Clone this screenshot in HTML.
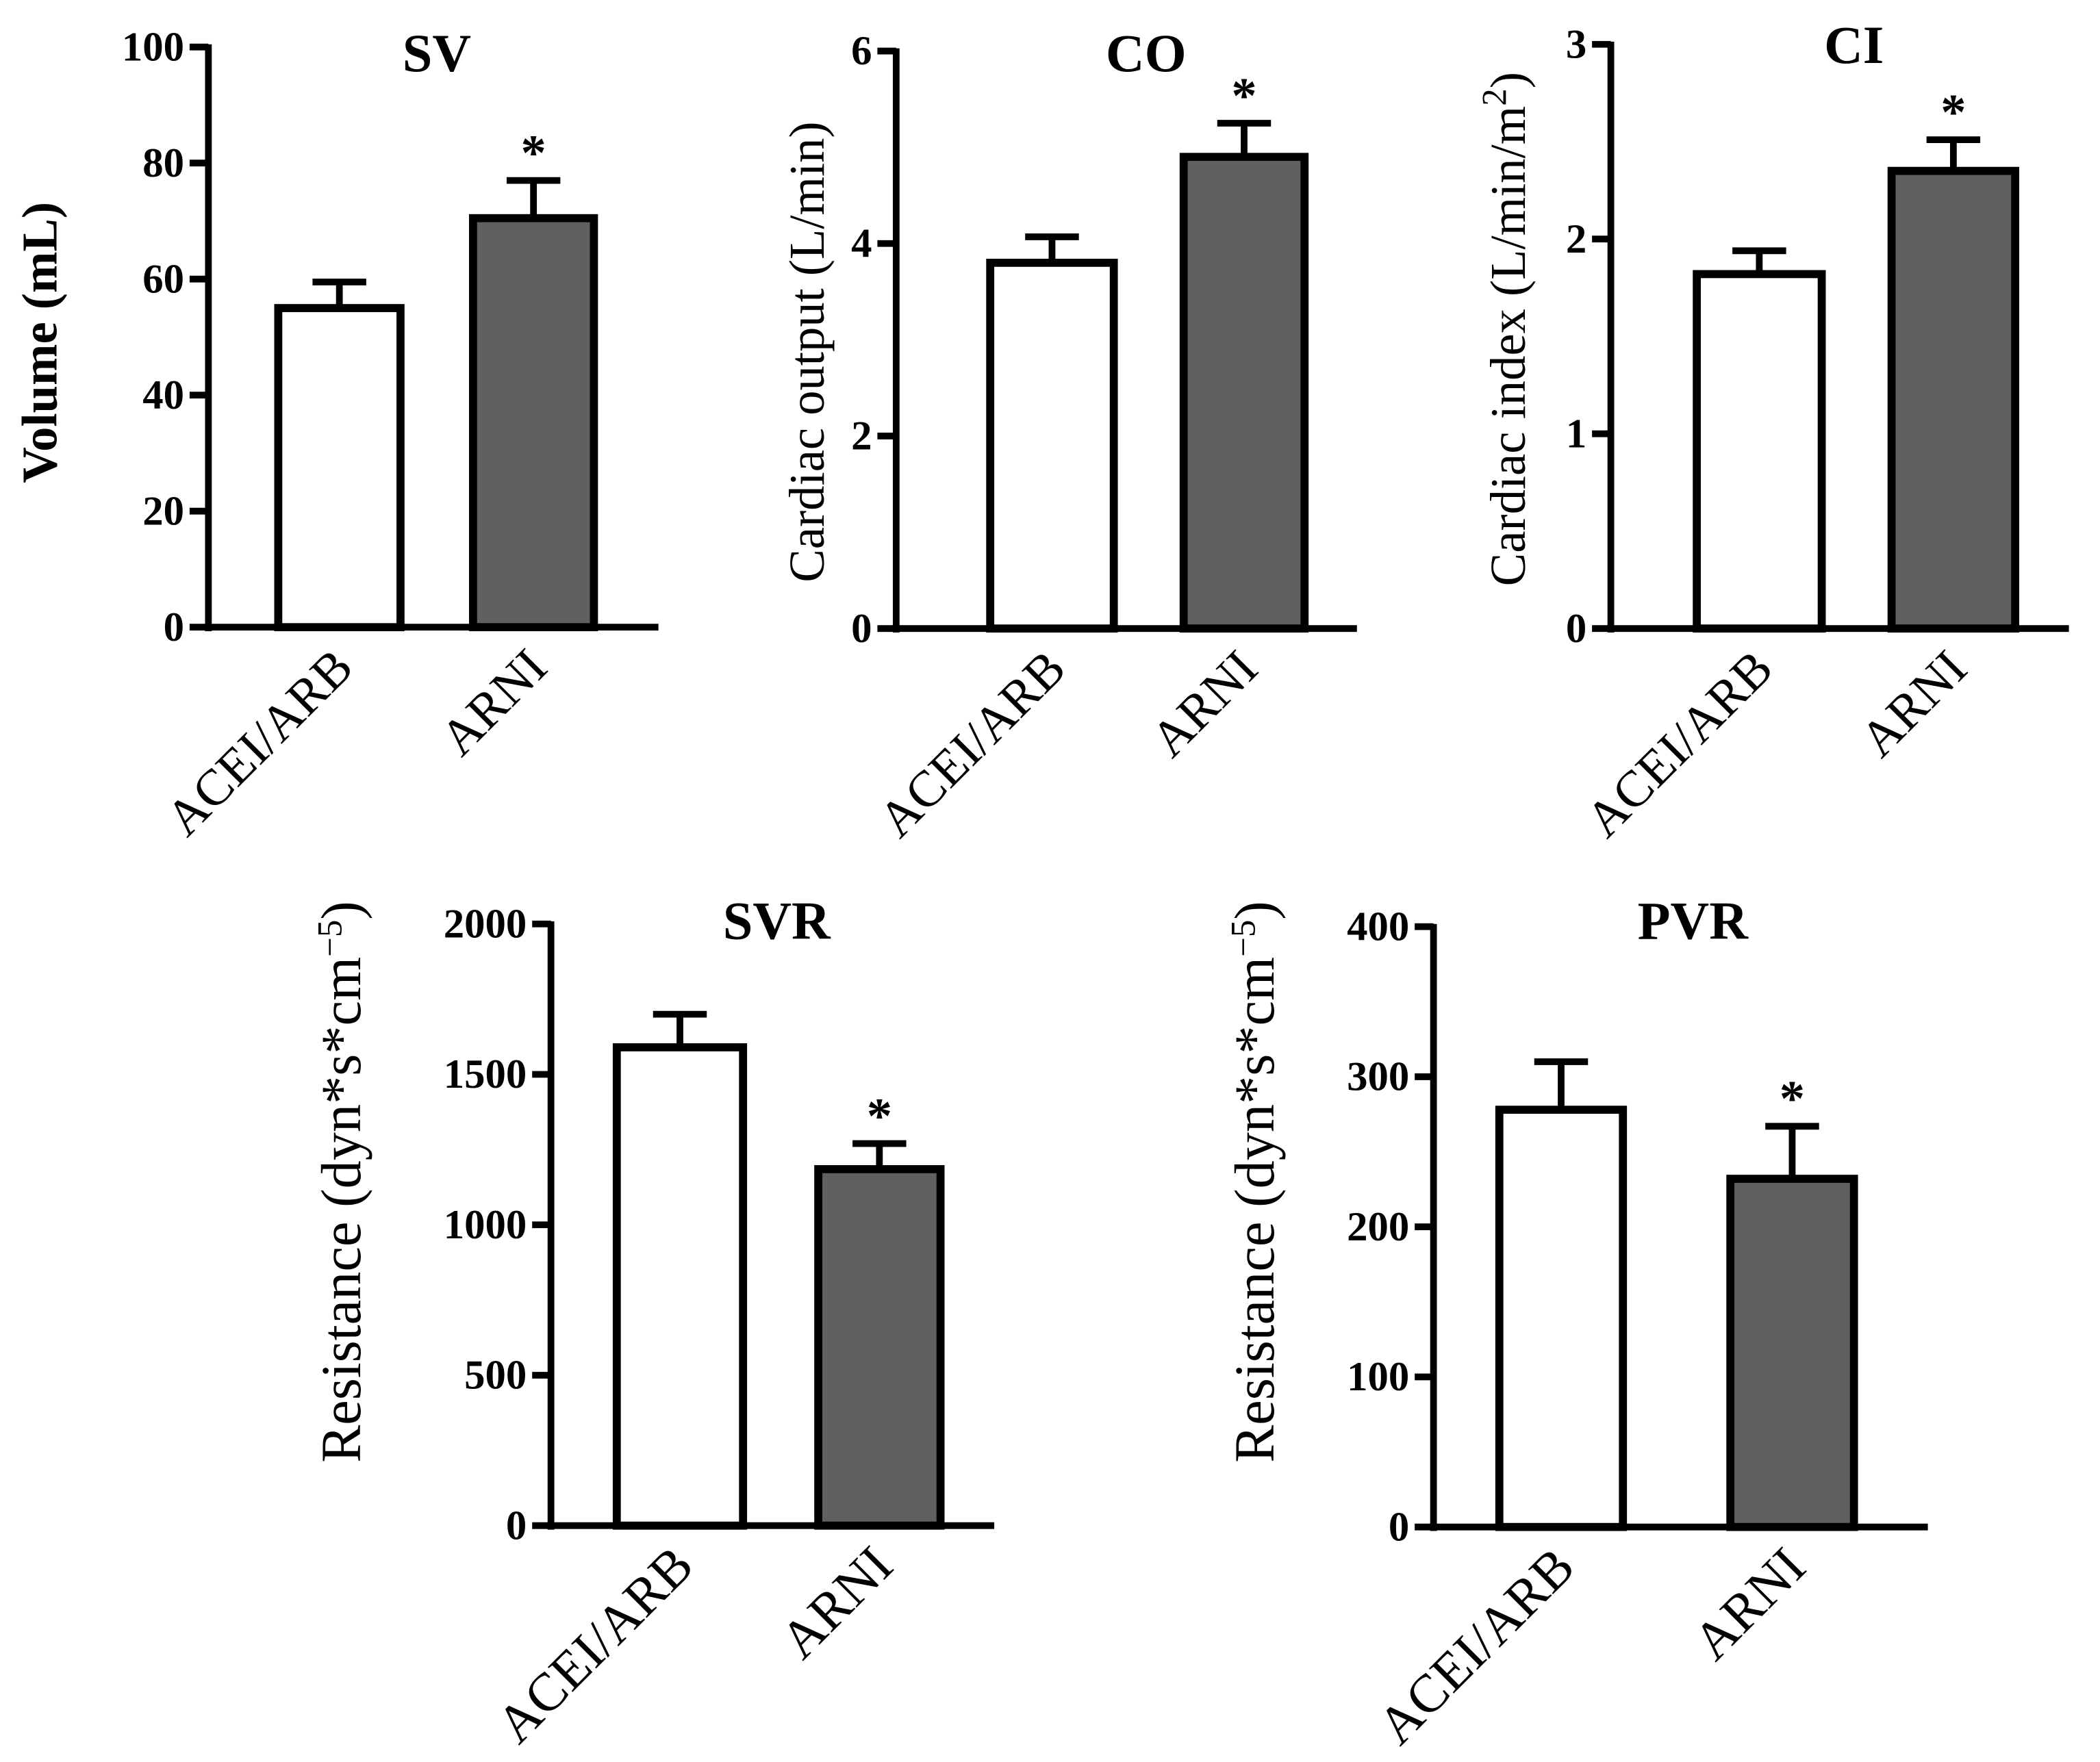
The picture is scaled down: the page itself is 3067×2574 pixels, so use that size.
<!DOCTYPE html>
<html><head><meta charset="utf-8"><style>html,body{margin:0;padding:0;background:#fff}svg{display:block}</style></head>
<body>
<svg id="fig" width="3067" height="2574" viewBox="0 0 1563 1312" xmlns="http://www.w3.org/2000/svg" font-family="'Liberation Serif', serif"></svg>
<script>
const categories = ["ACEI/ARB", "ARNI"];
const svMeans = [55, 70.5], svErr = [4.5, 6.5];
const coMeans = [3.8, 4.9], coErr = [0.27, 0.35];
const ciMeans = [1.82, 2.35], ciErr = [0.12, 0.16];
const svrMeans = [1590, 1185], svrErr = [110, 85];
const pvrMeans = [278, 232], pvrErr = [32, 35];
const svTicks = [0,20,40,60,80,100];
const coTicks = [0,2,4,6];
const ciTicks = [0,1,2,3];
const svrTicks = [0,500,1000,1500,2000];
const pvrTicks = [0,100,200,300,400];
const sig = [false, true];

const NS = "http://www.w3.org/2000/svg";
const svg = document.getElementById('fig');
function mk(tag, attrs, parent, text){
  const e = document.createElementNS(NS, tag);
  for (const k in attrs) e.setAttribute(k, attrs[k]);
  if (text !== undefined) e.textContent = text;
  (parent||svg).appendChild(e);
  return e;
}
const panels = [
 {id:'sv', title:'SV', ax:155, y0:467, y1:35, xEnd:490, max:100, ticks:svTicks, means:svMeans, err:svErr, bars:[[207,298],[352,442]], tx:325, ty:53, ylab:'Volume (mL)', ylx:42, yly:255, bold:true, yfs:37, cfs:38},
 {id:'co', title:'CO', ax:667, y0:468, y1:38, xEnd:1010, max:6, ticks:coTicks, means:coMeans, err:coErr, bars:[[737,829],[881,971]], tx:853, ty:53, ylab:'Cardiac output (L/min)', ylx:613, yly:262, yfs:37, cfs:38},
 {id:'ci', title:'CI', ax:1199, y0:468, y1:33, xEnd:1540, max:3, ticks:ciTicks, means:ciMeans, err:ciErr, bars:[[1263,1356],[1408,1500]], tx:1380, ty:47, ylab:'Cardiac index (L/min/m', sup:'2', ylx:1135, yly:245, yfs:37, cfs:38},
 {id:'svr', title:'SVR', ax:410, y0:1136, y1:688, xEnd:740, max:2000, ticks:svrTicks, means:svrMeans, err:svrErr, bars:[[459,553],[609,700]], tx:578, ty:699, ylab:'Resistance (dyn*s*cm', sup:'−5', ylx:268, yly:880, yfs:42, cfs:40},
 {id:'pvr', title:'PVR', ax:1067, y0:1137, y1:690, xEnd:1435, max:400, ticks:pvrTicks, means:pvrMeans, err:pvrErr, bars:[[1116,1208],[1288,1380]], tx:1260, ty:699, ylab:'Resistance (dyn*s*cm', sup:'−5', ylx:948, yly:880, yfs:42, cfs:40}
];
panels.forEach(p=>{
  const g = mk('g',{});
  
  
  const y = v => p.y0 - (v/p.max)*(p.y0-p.y1);
  p.means.forEach((m,i)=>{
    const [xa,xb] = p.bars[i]; const cx=(xa+xb)/2;
    const top=y(m), et=y(m+p.err[i]);
    const el = mk('line',{x1:cx,x2:cx,y1:top,y2:et,stroke:'#000','stroke-width':5},g);
    
    
    mk('line',{x1:cx-20,x2:cx+20,y1:et,y2:et,stroke:'#000','stroke-width':5},g);
    const r = mk('rect',{x:xa,y:top,width:xb-xa,height:p.y0-top,fill:i?'#606060':'#fff',stroke:'#000','stroke-width':6},g);
    
    
    if (sig[i]) {
      const s = mk('text',{x:cx,y:et-8,'text-anchor':'middle','font-size':38,'font-weight':'bold'},g,'*');
      
      
    }
    const t = mk('text',{x:0,y:0,'text-anchor':'end','font-size':p.cfs,transform:`translate(${cx+12},${p.y0+32}) rotate(-45)`},g,categories[i]);
    
    
  });
  const ya = mk('line',{x1:p.ax,x2:p.ax,y1:p.y1-2,y2:p.y0+3,stroke:'#000','stroke-width':5},g);
  
  
  const xa = mk('line',{x1:p.ax-3,x2:p.xEnd,y1:p.y0,y2:p.y0,stroke:'#000','stroke-width':5},g);
  
  
  p.ticks.forEach(v=>{
    mk('line',{x1:p.ax-14,x2:p.ax,y1:y(v),y2:y(v),stroke:'#000','stroke-width':5},g);
    const t = mk('text',{x:p.ax-18,y:y(v)+10,'text-anchor':'end','font-size':31,'font-weight':'bold'},g,String(v));
    
    
  });
  const tt = mk('text',{x:p.tx,y:p.ty,'text-anchor':'middle','font-size':40,'font-weight':'bold'},g,p.title);
  
  
  const yl = mk('text',{x:0,y:0,'text-anchor':'middle','font-size':p.yfs,'font-weight':p.bold?'bold':'normal',transform:`translate(${p.ylx},${p.yly}) rotate(-90)`},g);
  
  
  const a = document.createElementNS(NS,'tspan'); a.textContent=p.ylab; yl.appendChild(a);
  if (p.sup){
    const s=document.createElementNS(NS,'tspan'); s.setAttribute('dy','-14'); s.setAttribute('font-size','26'); s.textContent=p.sup; yl.appendChild(s);
    const c=document.createElementNS(NS,'tspan'); c.setAttribute('dy','14'); c.textContent=')'; yl.appendChild(c);
  }
});
</script>
</body></html>
